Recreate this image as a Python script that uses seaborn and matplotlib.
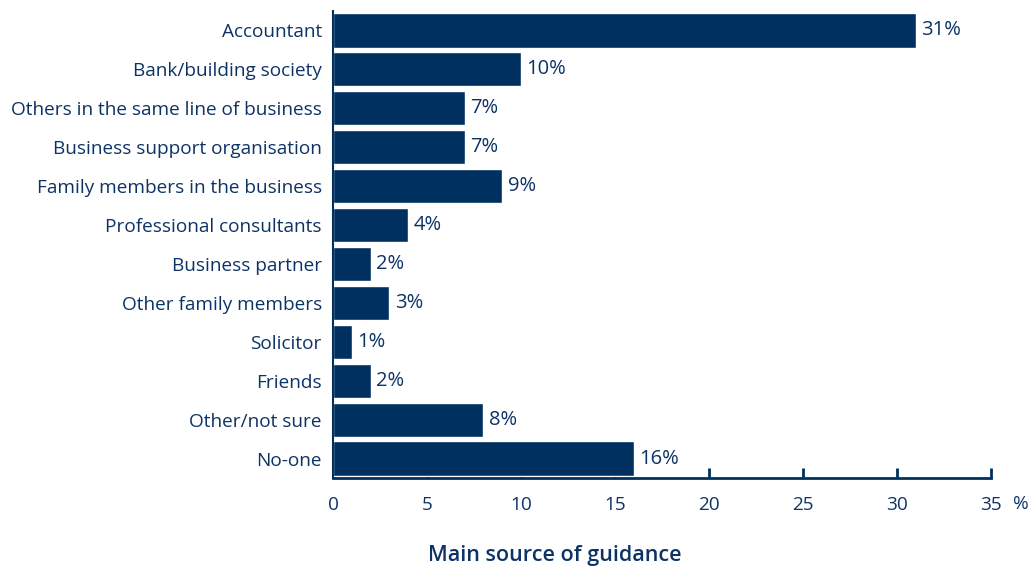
import numpy as np
import pandas as pd
import matplotlib
matplotlib.use("Agg")
import matplotlib.pyplot as plt
import seaborn as sns

# data
sources = [
    "Accountant",
    "Bank/building society",
    "Others in the same line of business",
    "Business support organisation",
    "Family members in the business",
    "Professional consultants",
    "Business partner",
    "Other family members",
    "Solicitor",
    "Friends",
    "Other/not sure",
    "No-one",
]
shares = [31, 10, 7, 7, 9, 4, 2, 3, 1, 2, 8, 16]
x_ticks = [0, 5, 10, 15, 20, 25, 30, 35]

navy = "#00305f"
text_col = "#0d3366"
fs = 13.7

df = pd.DataFrame({"Source": sources, "Share": shares})

sns.set_style("white")
plt.rcParams["font.family"] = ["Open Sans", "DejaVu Sans"]

fig = plt.figure(figsize=(10.34, 5.69), dpi=100)
ax = fig.add_axes([333 / 1034, 1 - 478 / 569, (991 - 333) / 1034, (478 - 11) / 569])

sns.barplot(data=df, x="Share", y="Source", color=navy, saturation=1,
            width=0.88, orient="h", ax=ax)

ax.bar_label(ax.containers[0], labels=[f"{v}%" for v in shares],
             padding=4, color=text_col, fontsize=14.5)

ax.set_xlim(0, 35)
ax.set_ylim(11.5, -0.5)
ax.set_xticks(x_ticks)
ax.set_xticklabels([str(t) for t in x_ticks])
ax.set_xlabel("")
ax.set_ylabel("")

for s in ["top", "right"]:
    ax.spines[s].set_visible(False)
ax.spines["bottom"].set_color(navy)
ax.spines["bottom"].set_linewidth(2)
ax.spines["left"].set_color(navy)
ax.spines["left"].set_linewidth(1.5)

ax.tick_params(axis="x", bottom=True, direction="in", length=7, width=2,
               color=navy, labelcolor=text_col, labelsize=fs, pad=13)
ax.tick_params(axis="y", left=False, length=0, labelcolor=text_col,
               labelsize=fs, pad=8)

fig.text(1021 / 1034, 1 - 504 / 569, "%", color=text_col, fontsize=fs,
         ha="center", va="center")
fig.text(555 / 1034, 1 - 555 / 569, "Main source of guidance", color=text_col,
         fontsize=15.5, fontweight="semibold", ha="center", va="center")

fig.savefig("out.png", dpi=100)
